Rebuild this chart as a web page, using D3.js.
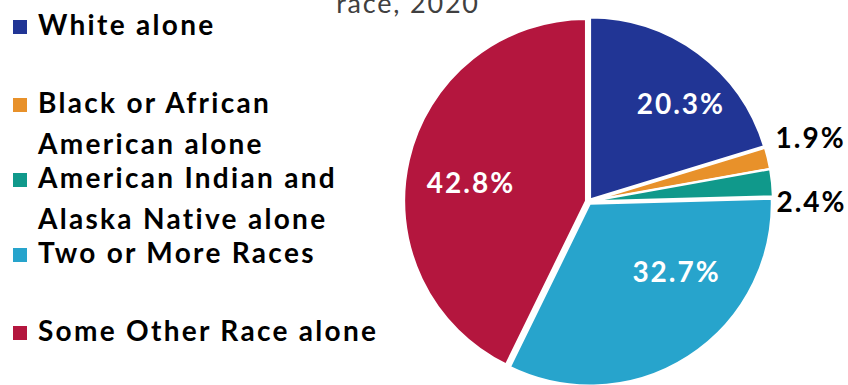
<!DOCTYPE html>
<html>
<head>
<meta charset="utf-8">
<script src="https://cdn.jsdelivr.net/npm/d3@7"></script>
<style>
  html, body { margin: 0; padding: 0; background: #ffffff; }
  svg { display: block; }
  text { font-family: Lato, "Open Sans", sans-serif; }
</style>
</head>
<body>
<svg id="chart" width="848" height="385"></svg>
<script>
// Population share by race, 2020 (percent)
const categories = [
  "White alone",
  "Black or African American alone",
  "American Indian and Alaska Native alone",
  "Two or More Races",
  "Some Other Race alone"
];
const shares = [20.3, 1.9, 2.4, 32.7, 42.8];
const colors = ["#213595", "#E8912A", "#10998B", "#27A4CC", "#B4163E"];

// Legend entries, wrapped the way they are printed
const legendLines = [
  ["White alone"],
  ["Black or African", "American alone"],
  ["American Indian and", "Alaska Native alone"],
  ["Two or More Races"],
  ["Some Other Race alone"]
];
const titleText = "race, 2020";

// Layout
const W = 848, H = 385;
const cx = 588.5, cy = 201.5, R = 182;
const explode = 2.5;
// Label placement: angle (deg, clockwise from 12 o'clock) and distance from the centre
const labelPolar = [
  { angle: 43, dist: 134, inside: true },
  { angle: 74, dist: 230, inside: false },
  { angle: 90, dist: 222, inside: false },
  { angle: 129, dist: 112, inside: true },
  { angle: 279, dist: 120, inside: true }
];
const legendTop = [35, 113, 188, 263, 341];   // baseline of first line per entry
const legendLineGap = 41;

const svg = d3.select("#chart");

const data = categories.map((c, i) => ({ name: c, value: shares[i], color: colors[i] }));

const pie = d3.pie().value(d => d.value).sort(null);
const arc = d3.arc().innerRadius(0).outerRadius(R);
const arcs = pie(data);

const g = svg.append("g").attr("transform", `translate(${cx},${cy})`);

g.selectAll("path.slice")
  .data(arcs)
  .join("path")
  .attr("class", "slice")
  .attr("d", arc)
  .attr("fill", d => d.data.color)
  .attr("stroke", "#ffffff")
  .attr("stroke-width", 2.2)
  .attr("stroke-linejoin", "round")
  .attr("transform", d => {
    const a = (d.startAngle + d.endAngle) / 2;
    return `translate(${explode * Math.sin(a)},${-explode * Math.cos(a)})`;
  });

// Value labels
g.selectAll("text.value")
  .data(arcs)
  .join("text")
  .attr("class", "value")
  .each(function (d, i) {
    const p = labelPolar[i];
    const a = p.angle * Math.PI / 180;
    const x = p.dist * Math.sin(a), y = -p.dist * Math.cos(a);
    d3.select(this)
      .attr("x", x + 1)
      .attr("y", y)
      .attr("dy", "0.36em")
      .attr("text-anchor", "middle")
      .attr("fill", p.inside ? "#ffffff" : "#000000");
  })
  .attr("font-size", 28)
  .attr("font-weight", 700)
  .attr("letter-spacing", 2)
  .text(d => d3.format(".1f")(d.data.value) + "%");

// Title (last line visible at the top)
svg.append("text")
  .attr("x", 408)
  .attr("y", 13)
  .attr("text-anchor", "middle")
  .attr("font-size", 27)
  .attr("letter-spacing", 1.8)
  .attr("fill", "#404040")
  .text(titleText);

// Legend
const lg = svg.append("g");
legendLines.forEach((lines, i) => {
  const base = legendTop[i];
  lg.append("rect")
    .attr("x", 13)
    .attr("y", base - 15)
    .attr("width", 14)
    .attr("height", 14)
    .attr("fill", colors[i]);
  const t = lg.append("text")
    .attr("x", 38)
    .attr("y", base)
    .attr("font-size", 28)
    .attr("font-weight", 700)
    .attr("letter-spacing", 2.3)
    .attr("fill", "#000000");
  lines.forEach((ln, j) => {
    t.append("tspan")
      .attr("x", 38)
      .attr("y", base + j * legendLineGap)
      .text(ln);
  });
});
</script>
</body>
</html>
